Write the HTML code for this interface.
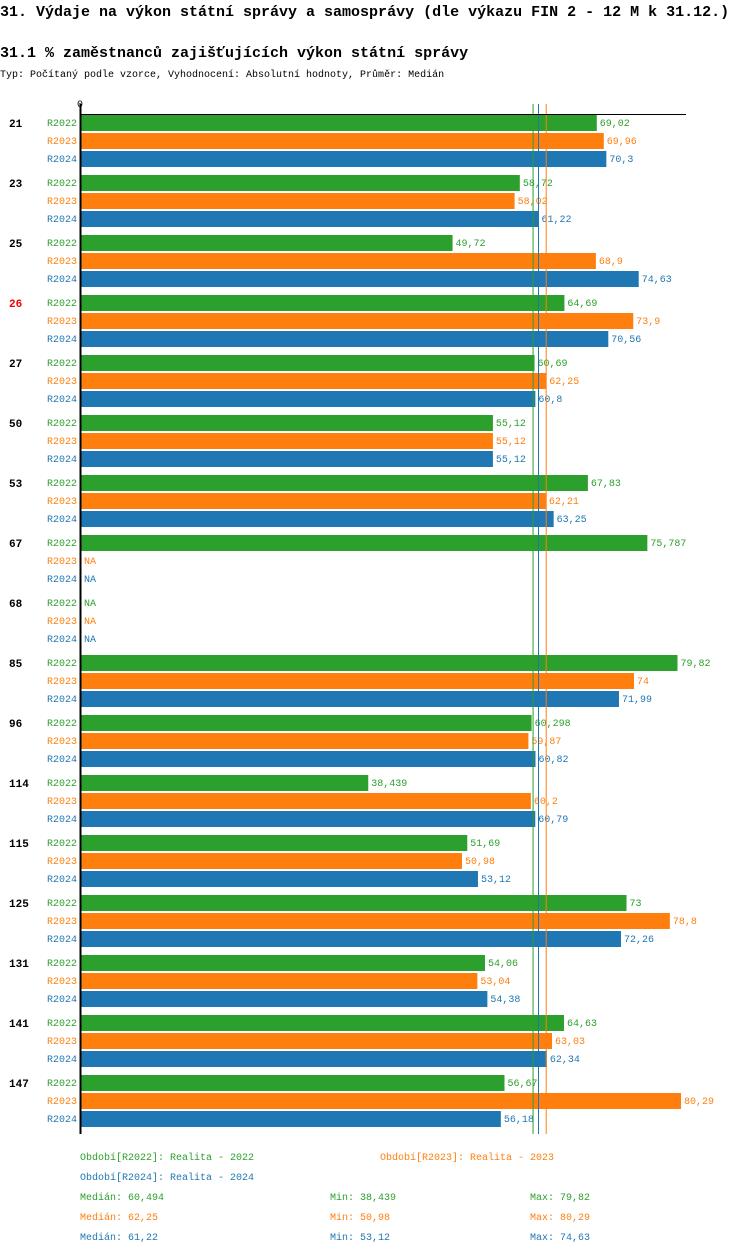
<!DOCTYPE html>
<html><head><meta charset="utf-8"><style>
body{margin:0;background:#fff;width:750px;height:1254px;overflow:hidden;font-family:"Liberation Mono",monospace}
svg text{font-family:"Liberation Mono",monospace}
</style></head><body>
<svg id="c" width="750" height="1254">
<text x="0" y="16" font-size="15" font-weight="bold">31. Výdaje na výkon státní správy a samosprávy (dle výkazu FIN 2 - 12 M k 31.12.)</text>
<text x="0" y="57" font-size="15" font-weight="bold">31.1 % zaměstnanců zajišťujících výkon státní správy</text>
<text x="0" y="77" font-size="10">Typ: Počítaný podle vzorce, Vyhodnocení: Absolutní hodnoty, Průměr: Medián</text>
<text x="77" y="107" font-size="10">0</text>
</svg>
<script>
const categories=["21","23","25","26","27","50","53","67","68","85","96","114","115","125","131","141","147"];
const seriesNames=["R2022","R2023","R2024"];
const r2022=[69.02,58.72,49.72,64.69,60.69,55.12,67.83,75.787,null,79.82,60.298,38.439,51.69,73,54.06,64.63,56.67];
const r2023=[69.96,58.02,68.9,73.9,62.25,55.12,62.21,null,null,74,59.87,60.2,50.98,78.8,53.04,63.03,80.29];
const r2024=[70.3,61.22,74.63,70.56,60.8,55.12,63.25,null,null,71.99,60.82,60.79,53.12,72.26,54.38,62.34,56.18];
const medians=[60.494,62.25,61.22];
const mins=["38,439","50,98","53,12"];
const maxs=["79,82","80,29","74,63"];
const colors=["#2ca02c","#ff7f0e","#1f77b4"];
const svg=document.getElementById('c');const NS="http://www.w3.org/2000/svg";
const x0=81,k=7.473;const xs=v=>x0+v*k;const yg=(g,s)=>115+60*g+18*s;
function mk(t,a,p){const e=document.createElementNS(NS,t);for(const n in a)e.setAttribute(n,a[n]);(p||svg).appendChild(e);return e;}
const fmt=v=>String(v).replace('.',',');
const data=[r2022,r2023,r2024];
categories.forEach((c,g)=>{
 const t=mk('text',{x:9,y:yg(g,0)+12,'font-size':11,'font-weight':'bold',fill:c==="26"?"#e00":"#000"});t.textContent=c;
 
 
 data.forEach((arr,s)=>{
  const y=yg(g,s);
  const l=mk('text',{x:47,y:y+11,'font-size':10,fill:colors[s]});l.textContent=seriesNames[s];
  
  
  const v=arr[g];
  if(v!==null){
   const r=mk('rect',{x:x0,y:y,width:xs(v)-x0,height:16,fill:colors[s]});
   
   
  }
  const vt=mk('text',{x:(v===null?x0:xs(v))+3,y:y+11,'font-size':10,fill:colors[s]});vt.textContent=v===null?"NA":fmt(v);
  
  
 });
});
medians.forEach((m,s)=>{const l=mk('line',{x1:xs(m),x2:xs(m),y1:104,y2:1134,stroke:colors[s],'stroke-width':1});
 
 });
const ax=mk('line',{x1:80.5,x2:80.5,y1:104,y2:1134,stroke:'#000','stroke-width':2});


const tx=mk('line',{x1:80,x2:686,y1:114.5,y2:114.5,stroke:'#000','stroke-width':1});


const leg=[[80,1160,"Období[R2022]: Realita - 2022",0],[380,1160,"Období[R2023]: Realita - 2023",1],[80,1180,"Období[R2024]: Realita - 2024",2]];
leg.forEach(a=>{const t=mk('text',{x:a[0],y:a[1],'font-size':10,fill:colors[a[3]]});t.textContent=a[2];
 
 });
[0,1,2].forEach(s=>{const y=1200+20*s;
 const a=mk('text',{x:80,y:y,'font-size':10,fill:colors[s]});a.textContent="Medián: "+fmt(medians[s]);
 
 
 const b=mk('text',{x:330,y:y,'font-size':10,fill:colors[s]});b.textContent="Min: "+mins[s];
 
 
 const d=mk('text',{x:530,y:y,'font-size':10,fill:colors[s]});d.textContent="Max: "+maxs[s];
 
 
});
</script>
</body></html>
